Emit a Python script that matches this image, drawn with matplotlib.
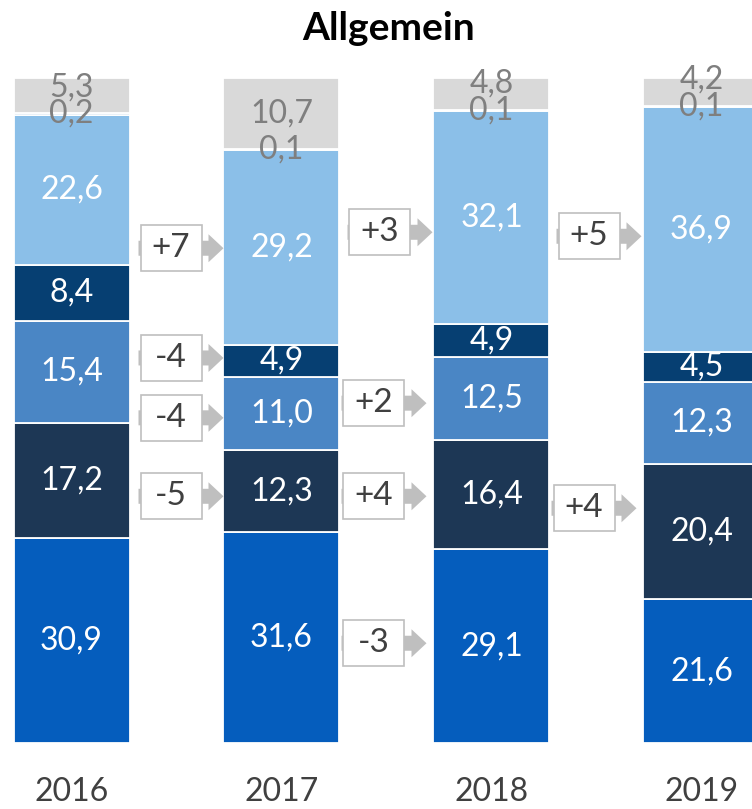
import matplotlib.pyplot as plt
import numpy as np
from matplotlib.patches import Polygon, Rectangle
from matplotlib.transforms import IdentityTransform

years = ["2016", "2017", "2018", "2019"]

# segments from bottom to top (percent)
seg_blue = [30.9, 31.6, 29.1, 21.6]
seg_slate = [17.2, 12.3, 16.4, 20.4]
seg_mid = [15.4, 11.0, 12.5, 12.3]
seg_navy = [8.4, 4.9, 4.9, 4.5]
seg_light = [22.6, 29.2, 32.1, 36.9]
seg_tiny = [0.2, 0.1, 0.1, 0.1]
seg_gray = [5.3, 10.7, 4.8, 4.2]

# change boxes between the years
change_gap = [0, 0, 0, 0, 1, 1, 1, 1, 2, 2]
change_text = ["+7", "-4", "-4", "-5", "+3", "+2", "+4", "-3", "+5", "+4"]
change_level = [74.4, 57.9, 48.9, 37.1, 76.8, 51.1, 37.1, 15.0, 76.2, 35.3]

segments = [seg_blue, seg_slate, seg_mid, seg_navy, seg_light, seg_tiny, seg_gray]
colors = ["#055DBD", "#1D3755", "#4A86C5", "#063F72", "#8BBFE8", "#2E75B6", "#D9D9D9"]
label_colors = ["white"] * 5 + ["#7F7F7F", "#7F7F7F"]

plt.rcParams["font.family"] = ["Lato", "DejaVu Sans"]

W, H = 752, 809
fig = plt.figure(figsize=(W / 100, H / 100), dpi=100)
ax = fig.add_axes([0, 66 / H, 1, 665 / H])
step = 210.0
ax.set_xlim(-71.5 / step, (W - 71.5) / step)
ax.set_ylim(0, 100)
ax.axis("off")

bar_w = 116 / step
x = np.arange(len(years))
data = np.array(segments, dtype=float)
pct = data / data.sum(axis=0) * 100
bottoms = np.zeros(len(years))

for k in range(len(segments)):
    ax.bar(x, pct[k], bottom=bottoms, width=bar_w, color=colors[k],
           edgecolor="white", linewidth=1.3)
    for i in range(len(years)):
        yc = bottoms[i] + pct[k][i] / 2
        if k == len(segments) - 1:
            yc = max(yc, bottoms[i] + 3.9)
        txt = f"{data[k][i]:.1f}".replace(".", ",")
        ax.text(x[i], yc, txt, ha="center", va="center", fontsize=23,
                color=label_colors[k], clip_on=False)
    bottoms = bottoms + pct[k]

# year labels
for i, yr in enumerate(years):
    ax.text(x[i], -7.4, yr, ha="center", va="center", fontsize=23,
            color="#404040", clip_on=False)

fig.text(389 / W, 1 - 28 / H, "Allgemein", ha="center", va="center",
         fontsize=28, fontweight="bold", color="black")

# change boxes with arrows (drawn in pixels)
box_dx = [11, 11, 11, 11, 10, 4, 4, 4, 9, 4]
ident = IdentityTransform()
for j in range(len(change_text)):
    g = change_gap[j]
    xr, yc = ax.transData.transform((x[g] + bar_w / 2, change_level[j]))
    xl = xr + box_dx[j]
    arrow = [(-2, -7.5), (68, -7.5), (68, -14), (83, 0), (68, 14), (68, 7.5), (-2, 7.5)]
    pts = [(xl + a, yc + b) for a, b in arrow]
    fig.patches.append(Polygon(pts, closed=True, facecolor="#BFBFBF",
                               edgecolor="none", transform=ident, figure=fig))
    fig.patches.append(Rectangle((xl, yc - 23), 61, 46, facecolor="white",
                                 edgecolor="#BFBFBF", linewidth=1.2,
                                 transform=ident, figure=fig))
    fig.text(xl + 30.5, yc, change_text[j], ha="center", va="center",
             fontsize=24, color="#404040", transform=ident)

fig.savefig("out.png", dpi=100)
